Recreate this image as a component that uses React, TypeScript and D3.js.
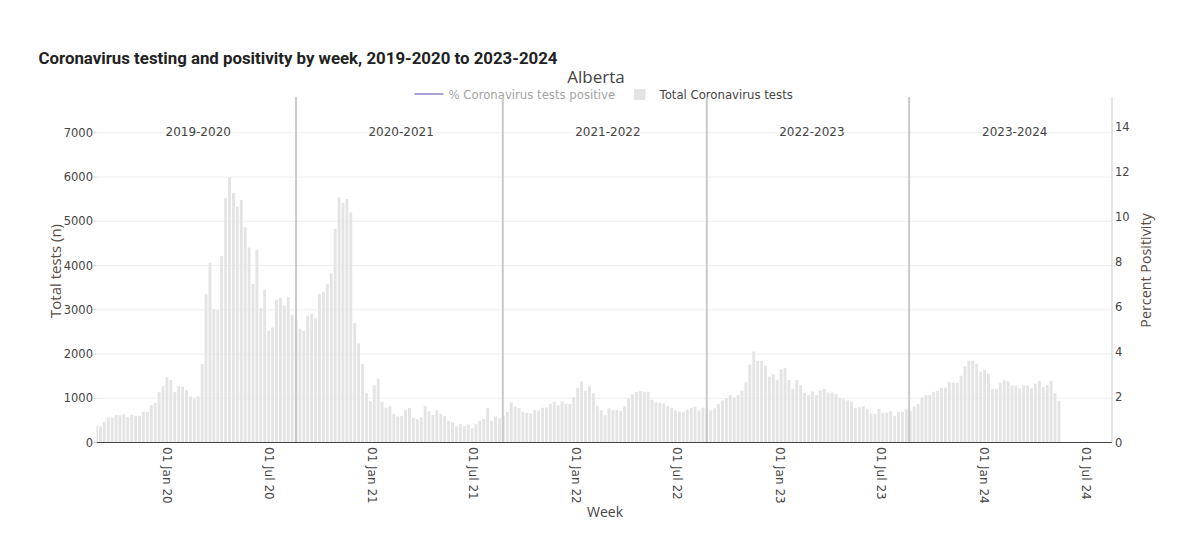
import React from "react";
import * as d3 from "d3";

// Weekly total Coronavirus tests, Alberta, first week centred on 2019-08-27
const weeklyTests = [
  384, 362, 460, 565, 565, 625, 618, 640, 580, 625, 603, 603, 693, 686, 844, 897, 1138, 1274, 1485, 1409,
  1145, 1274, 1258, 1183, 1040, 995, 1040, 1778, 3353, 4062, 3007, 2992, 4212, 5524, 5991, 5644, 5328, 5479, 4861, 4408,
  3580, 4356, 3037, 3451, 2525, 2600, 3225, 3271, 3090, 3286, 2886, 2796, 2570, 2525, 2864,
  2909, 2811, 3361, 3406, 3580, 3828, 4831, 5539, 5418, 5501, 5200, 2698, 2238, 1778, 1115, 934, 1296, 1447, 919, 791,
  821, 648, 588, 595, 731, 776, 558, 528, 573, 829, 708, 625, 731, 648, 595, 490, 460, 369, 422, 369,
  407, 324, 414, 490, 535, 776, 490, 588, 543, 603, 693,
  906, 815, 777, 694, 672, 657, 732, 725, 785, 792, 868, 921, 838, 928, 875, 875, 1026, 1230, 1381, 1170,
  1283, 1109, 830, 725, 619, 770, 732, 732, 709, 815, 996, 1087, 1140, 1162, 1147, 1147, 966, 906, 898, 883,
  823, 777, 725, 702, 694, 740, 785, 808, 725, 785, 770, 725, 770, 875,
  950, 1002, 1070, 1017, 1070, 1168, 1364, 1763, 2057, 1846, 1846, 1733, 1492, 1545, 1417, 1658, 1688, 1417, 1213, 1409,
  1296, 1123, 1078, 1153, 1070, 1176, 1213, 1130, 1130, 1093, 1002, 980, 950, 919, 776, 799, 821, 754, 656, 641,
  761, 671, 671, 708, 603, 693, 693, 761, 716, 814, 867,
  1019, 1072, 1072, 1147, 1162, 1238, 1238, 1366, 1351, 1351, 1509, 1721, 1849, 1849, 1781, 1600, 1638, 1547, 1208, 1208,
  1351, 1404, 1381, 1291, 1283, 1230, 1291, 1283, 1230, 1328, 1389, 1253, 1298, 1396, 1117, 943,
];
const firstWeekDate = "2019-08-27";
const xDomainDates = ["2019-08-27", "2024-08-17"];
const xTickDates = [
  "2020-01-01", "2020-07-01", "2021-01-01", "2021-07-01", "2022-01-01",
  "2022-07-01", "2023-01-01", "2023-07-01", "2024-01-01", "2024-07-01",
];
const leftTicks = [0, 1000, 2000, 3000, 4000, 5000, 6000, 7000];
const rightTicks = [0, 2, 4, 6, 8, 10, 12, 14];
const seasonNames = ["2019-2020", "2020-2021", "2021-2022", "2022-2023", "2023-2024"];
const seasonLabelDates = ["2020-02-25", "2021-02-22", "2022-02-27", "2023-02-27", "2024-02-25"];
const seasonBoundaryDates = ["2020-08-18", "2021-08-23", "2022-08-23", "2023-08-20"];

const FONT = "'Open Sans', verdana, arial, sans-serif";
const TICKFONT = "'DejaVu Sans', verdana, sans-serif";

export default function App() {
  const W = 1200;
  const H = 556;
  const plot = { left: 96.5, right: 1112, top: 97, bottom: 442.5 };
  const parse = d3.utcParse("%Y-%m-%d");
  const x = d3
    .scaleUtc()
    .domain(xDomainDates.map((d) => parse(d) as Date))
    .range([plot.left, plot.right]);
  const yL = d3.scaleLinear().domain([0, 7810]).range([plot.bottom, plot.top]);
  const yR = d3.scaleLinear().domain([0, 15.31]).range([plot.bottom, plot.top]);
  const fmt = d3.utcFormat("%d %b %y");
  const start = parse(firstWeekDate) as Date;
  const weeks = weeklyTests.map((_, i) => d3.utcDay.offset(start, 7 * i));
  const weekPx = x(d3.utcDay.offset(start, 7)) - x(start);
  const barW = weekPx * 0.74;

  return (
    <svg
      width={W}
      height={H}
      style={{ position: "absolute", left: 0, top: 0, display: "block", background: "#fff" }}
      fontFamily={FONT}
    >
      <defs>
        <clipPath id="plotclip">
          <rect x={plot.left} y={plot.top} width={plot.right - plot.left} height={plot.bottom - plot.top} />
        </clipPath>
      </defs>

      {/* title */}
      <text
        x={38.5}
        y={64}
        fontFamily="Roboto, sans-serif"
        fontWeight={700}
        fontSize={16}
        fill="#222"
        textLength={519}
        lengthAdjust="spacingAndGlyphs"
      >
        Coronavirus testing and positivity by week, 2019-2020 to 2023-2024
      </text>
      <text x={596} y={83} textAnchor="middle" fontSize={17} fill="#444">
        Alberta
      </text>

      {/* legend */}
      <line x1={414.5} x2={443.5} y1={94} y2={94} stroke="#a9a5d2" strokeWidth={2} />
      <text x={448.5} y={98.5} fontFamily={TICKFONT} fontSize={11.7} fill="#a3a3a3">
        % Coronavirus tests positive
      </text>
      <rect x={634} y={89} width={11.5} height={11} fill="#e3e3e3" />
      <text x={659.5} y={98.5} fontFamily={TICKFONT} fontSize={11.7} fill="#444">
        Total Coronavirus tests
      </text>

      {/* gridlines */}
      {leftTicks.slice(1).map((t) => (
        <line key={"g" + t} x1={plot.left} x2={plot.right} y1={yL(t)} y2={yL(t)} stroke="#eee" strokeWidth={1} />
      ))}

      {/* bars */}
      <g clipPath="url(#plotclip)">
        {weeklyTests.map((v, i) => (
          <rect
            key={i}
            x={x(weeks[i]) - barW / 2}
            y={yL(v)}
            width={barW}
            height={yL(0) - yL(v)}
            fill="#e4e4e4"
          />
        ))}
      </g>

      {/* season separators */}
      {seasonBoundaryDates.map((d) => {
        const xx = x(parse(d) as Date);
        return <line key={d} x1={xx} x2={xx} y1={plot.top} y2={plot.bottom} stroke="#c9c9c9" strokeWidth={2} />;
      })}
      {seasonNames.map((s, i) => (
        <text
          key={s}
          x={x(parse(seasonLabelDates[i]) as Date)}
          y={135.5}
          textAnchor="middle"
          fontFamily={TICKFONT}
          fontSize={12}
          fill="#444"
        >
          {s}
        </text>
      ))}

      {/* x axis */}
      <line x1={plot.left} x2={plot.right} y1={plot.bottom} y2={plot.bottom} stroke="#444" strokeWidth={1} />
      {xTickDates.map((d) => {
        const xx = x(parse(d) as Date);
        return (
          <text
            key={d}
            transform={`translate(${xx},${447}) rotate(90)`}
            textAnchor="start"
            dy="0.35em"
            fontFamily={TICKFONT}
            fontSize={12}
            fill="#444"
          >
            {fmt(parse(d) as Date)}
          </text>
        );
      })}
      <text x={605} y={517} textAnchor="middle" fontSize={14} fill="#444">
        Week
      </text>

      {/* left axis */}
      {leftTicks.map((t) => (
        <g key={"l" + t}>
          <line x1={93.5} x2={plot.left} y1={yL(t)} y2={yL(t)} stroke="#ccc" strokeWidth={1} />
          <text
            x={93}
            y={yL(t)}
            dy="0.35em"
            textAnchor="end"
            fontFamily={TICKFONT}
            fontSize={11.5}
            fill="#444"
          >
            {t}
          </text>
        </g>
      ))}
      <text
        transform={`translate(${61},${271}) rotate(-90)`}
        textAnchor="middle"
        fontSize={15}
        fill="#5a4a42"
      >
        Total tests (n)
      </text>

      {/* right axis */}
      <line x1={plot.right} x2={plot.right} y1={plot.top} y2={plot.bottom} stroke="#ccc" strokeWidth={1} />
      {rightTicks.map((t) => (
        <text
          key={"r" + t}
          x={1115}
          y={yR(t)}
          dy="0.35em"
          textAnchor="start"
          fontFamily={TICKFONT}
          fontSize={11.5}
          fill="#444"
        >
          {t}
        </text>
      ))}
      <text
        transform={`translate(${1151},${270.5}) rotate(-90)`}
        textAnchor="middle"
        fontSize={14.3}
        fill="#5a4a42"
      >
        Percent Positivity
      </text>
    </svg>
  );
}
